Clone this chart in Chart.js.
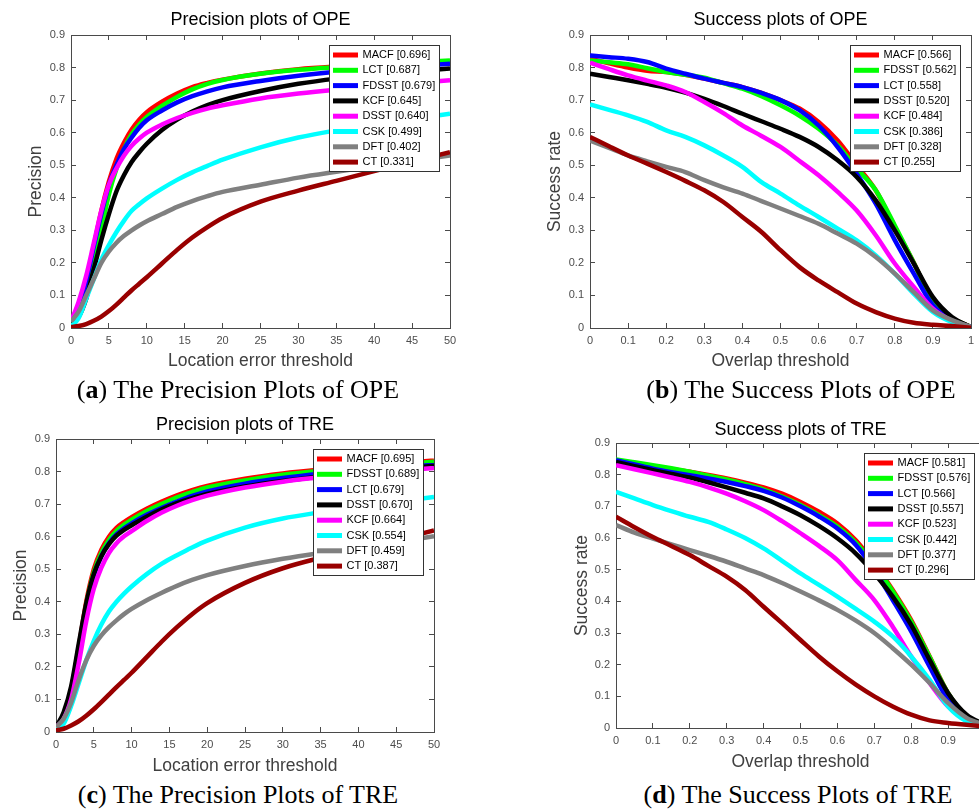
<!DOCTYPE html>
<html>
<head>
<meta charset="utf-8">
<script src="https://cdn.jsdelivr.net/npm/chart.js@4.4.0/dist/chart.umd.min.js"></script>
<style>
html, body { margin: 0; padding: 0; background: #fff; width: 979px; height: 809px; overflow: hidden; }
canvas { position: absolute; }
.cap { position: absolute; font-family: 'Liberation Serif', 'Times New Roman', serif; font-size: 26px; line-height: 26px; white-space: nowrap; transform: translateX(-50%); color: #000; }
</style>
</head>
<body>
<canvas id="chartA" width="521" height="380" style="left:0px;top:0px"></canvas>
<canvas id="chartB" width="501" height="380" style="left:530px;top:0px"></canvas>
<canvas id="chartC" width="490" height="380" style="left:0px;top:400px"></canvas>
<canvas id="chartD" width="469" height="380" style="left:566px;top:400px"></canvas>
<div class="cap" style="left:238px;top:377px">(<b>a</b>) The Precision Plots of OPE</div>
<div class="cap" style="left:801px;top:377px">(<b>b</b>) The Success Plots of OPE</div>
<div class="cap" style="left:238px;top:782px">(<b>c</b>) The Precision Plots of TRE</div>
<div class="cap" style="left:798px;top:782px">(<b>d</b>) The Success Plots of TRE</div>
<script>
// x values
const errThresh = [0, 1, 2, 3, 4, 5, 6, 7, 8, 9, 10, 12, 14, 16, 18, 20, 25, 30, 35, 40, 45, 50];
const overlapThresh = [0, 0.05, 0.1, 0.15, 0.2, 0.25, 0.3, 0.35, 0.4, 0.45, 0.5, 0.55, 0.6, 0.65, 0.7, 0.75, 0.8, 0.85, 0.9, 0.95, 1];

// (a) precision plots of OPE
const opePrecNames = ['MACF', 'LCT', 'FDSST', 'KCF', 'DSST', 'CSK', 'DFT', 'CT'];
const opePrecScores = [0.696, 0.687, 0.679, 0.645, 0.640, 0.499, 0.402, 0.331];
const opePrecMACF = [0.02, 0.06, 0.14, 0.25, 0.36, 0.45, 0.52, 0.57, 0.61, 0.64, 0.663, 0.695, 0.72, 0.74, 0.753, 0.763, 0.782, 0.795, 0.803, 0.809, 0.814, 0.818];
const opePrecLCT = [0.02, 0.04, 0.10, 0.19, 0.30, 0.41, 0.49, 0.55, 0.595, 0.625, 0.648, 0.682, 0.71, 0.733, 0.75, 0.762, 0.781, 0.793, 0.801, 0.808, 0.815, 0.822];
const opePrecFDSST = [0.02, 0.06, 0.14, 0.25, 0.35, 0.44, 0.50, 0.55, 0.585, 0.615, 0.638, 0.668, 0.693, 0.712, 0.727, 0.739, 0.759, 0.775, 0.787, 0.796, 0.804, 0.812];
const opePrecKCF = [0.02, 0.035, 0.09, 0.18, 0.27, 0.35, 0.42, 0.47, 0.51, 0.54, 0.566, 0.608, 0.64, 0.665, 0.685, 0.70, 0.728, 0.75, 0.766, 0.778, 0.788, 0.797];
const opePrecDSST = [0.02, 0.08, 0.16, 0.26, 0.36, 0.44, 0.49, 0.53, 0.56, 0.582, 0.60, 0.625, 0.645, 0.661, 0.674, 0.684, 0.705, 0.72, 0.732, 0.742, 0.752, 0.761];
const opePrecCSK = [0.005, 0.03, 0.09, 0.15, 0.21, 0.255, 0.295, 0.33, 0.36, 0.38, 0.398, 0.428, 0.455, 0.478, 0.498, 0.517, 0.555, 0.585, 0.607, 0.625, 0.642, 0.658];
const opePrecDFT = [0.02, 0.05, 0.10, 0.15, 0.20, 0.235, 0.262, 0.283, 0.30, 0.315, 0.328, 0.35, 0.372, 0.39, 0.405, 0.418, 0.44, 0.462, 0.48, 0.497, 0.514, 0.53];
const opePrecCT = [0.003, 0.006, 0.012, 0.022, 0.035, 0.052, 0.072, 0.094, 0.116, 0.136, 0.156, 0.198, 0.24, 0.278, 0.31, 0.338, 0.388, 0.422, 0.452, 0.482, 0.511, 0.54];

// (b) success plots of OPE
const opeSuccNames = ['MACF', 'FDSST', 'LCT', 'DSST', 'KCF', 'CSK', 'DFT', 'CT'];
const opeSuccScores = [0.566, 0.562, 0.558, 0.520, 0.484, 0.386, 0.328, 0.255];
const opeSuccMACF = [0.827, 0.813, 0.800, 0.790, 0.786, 0.778, 0.766, 0.753, 0.740, 0.722, 0.700, 0.674, 0.633, 0.576, 0.500, 0.423, 0.310, 0.200, 0.080, 0.030, 0.003];
const opeSuccFDSST = [0.822, 0.816, 0.810, 0.798, 0.786, 0.778, 0.769, 0.752, 0.735, 0.712, 0.684, 0.652, 0.612, 0.561, 0.490, 0.423, 0.315, 0.200, 0.082, 0.030, 0.003];
const opeSuccLCT = [0.837, 0.832, 0.827, 0.817, 0.797, 0.781, 0.766, 0.753, 0.740, 0.722, 0.700, 0.669, 0.622, 0.556, 0.474, 0.382, 0.270, 0.167, 0.070, 0.024, 0.003];
const opeSuccDSST = [0.781, 0.771, 0.761, 0.750, 0.738, 0.723, 0.704, 0.682, 0.658, 0.635, 0.612, 0.587, 0.556, 0.515, 0.464, 0.392, 0.300, 0.198, 0.095, 0.034, 0.003];
const opeSuccKCF = [0.815, 0.795, 0.776, 0.760, 0.745, 0.725, 0.694, 0.660, 0.622, 0.590, 0.556, 0.513, 0.469, 0.418, 0.361, 0.285, 0.198, 0.126, 0.059, 0.022, 0.003];
const opeSuccCSK = [0.687, 0.670, 0.653, 0.633, 0.607, 0.587, 0.561, 0.530, 0.495, 0.448, 0.413, 0.376, 0.341, 0.305, 0.269, 0.223, 0.167, 0.105, 0.049, 0.018, 0.003];
const opeSuccDFT = [0.576, 0.553, 0.530, 0.512, 0.495, 0.479, 0.454, 0.432, 0.413, 0.390, 0.367, 0.344, 0.320, 0.290, 0.259, 0.218, 0.167, 0.110, 0.054, 0.024, 0.003];
const opeSuccCT = [0.587, 0.558, 0.530, 0.505, 0.479, 0.452, 0.423, 0.387, 0.341, 0.295, 0.239, 0.187, 0.146, 0.110, 0.075, 0.049, 0.029, 0.016, 0.010, 0.006, 0.001];

// (c) precision plots of TRE
const trePrecNames = ['MACF', 'FDSST', 'LCT', 'DSST', 'KCF', 'CSK', 'DFT', 'CT'];
const trePrecScores = [0.695, 0.689, 0.679, 0.670, 0.664, 0.554, 0.459, 0.387];
const trePrecMACF = [0.015, 0.05, 0.13, 0.26, 0.40, 0.50, 0.56, 0.60, 0.627, 0.645, 0.66, 0.686, 0.708, 0.727, 0.743, 0.756, 0.778, 0.794, 0.806, 0.816, 0.825, 0.834];
const trePrecFDSST = [0.015, 0.045, 0.12, 0.25, 0.39, 0.49, 0.55, 0.59, 0.618, 0.637, 0.652, 0.679, 0.701, 0.721, 0.737, 0.751, 0.773, 0.79, 0.802, 0.812, 0.821, 0.83];
const trePrecLCT = [0.015, 0.045, 0.12, 0.245, 0.38, 0.48, 0.54, 0.58, 0.607, 0.626, 0.641, 0.667, 0.689, 0.708, 0.725, 0.739, 0.763, 0.78, 0.793, 0.803, 0.812, 0.821];
const trePrecDSST = [0.015, 0.06, 0.14, 0.27, 0.395, 0.485, 0.54, 0.577, 0.603, 0.621, 0.635, 0.661, 0.684, 0.703, 0.718, 0.731, 0.754, 0.771, 0.785, 0.797, 0.807, 0.818];
const trePrecKCF = [0.015, 0.04, 0.10, 0.21, 0.34, 0.44, 0.505, 0.55, 0.58, 0.601, 0.617, 0.648, 0.674, 0.695, 0.712, 0.726, 0.751, 0.769, 0.782, 0.793, 0.802, 0.811];
const trePrecCSK = [0.01, 0.025, 0.08, 0.15, 0.22, 0.28, 0.33, 0.37, 0.40, 0.425, 0.447, 0.485, 0.517, 0.543, 0.567, 0.588, 0.628, 0.656, 0.675, 0.692, 0.707, 0.722];
const trePrecDFT = [0.015, 0.04, 0.09, 0.16, 0.22, 0.265, 0.297, 0.322, 0.343, 0.362, 0.378, 0.405, 0.428, 0.449, 0.467, 0.482, 0.51, 0.532, 0.55, 0.566, 0.583, 0.601];
const trePrecCT = [0.005, 0.01, 0.02, 0.033, 0.05, 0.07, 0.092, 0.115, 0.138, 0.16, 0.182, 0.23, 0.278, 0.322, 0.362, 0.396, 0.458, 0.503, 0.535, 0.562, 0.59, 0.619];

// (d) success plots of TRE
const treSuccNames = ['MACF', 'FDSST', 'LCT', 'DSST', 'KCF', 'CSK', 'DFT', 'CT'];
const treSuccScores = [0.581, 0.576, 0.566, 0.557, 0.523, 0.442, 0.377, 0.296];
const treSuccMACF = [0.846, 0.836, 0.827, 0.818, 0.809, 0.799, 0.788, 0.775, 0.760, 0.740, 0.714, 0.683, 0.646, 0.593, 0.520, 0.436, 0.341, 0.226, 0.110, 0.037, 0.010];
const treSuccFDSST = [0.848, 0.839, 0.830, 0.820, 0.809, 0.797, 0.785, 0.770, 0.753, 0.731, 0.704, 0.672, 0.636, 0.585, 0.515, 0.432, 0.336, 0.224, 0.110, 0.038, 0.010];
const treSuccLCT = [0.846, 0.832, 0.819, 0.808, 0.798, 0.788, 0.777, 0.764, 0.749, 0.728, 0.700, 0.668, 0.630, 0.578, 0.499, 0.404, 0.305, 0.194, 0.089, 0.032, 0.010];
const treSuccDSST = [0.840, 0.827, 0.814, 0.802, 0.791, 0.776, 0.760, 0.743, 0.725, 0.700, 0.672, 0.638, 0.599, 0.551, 0.488, 0.415, 0.326, 0.215, 0.110, 0.042, 0.010];
const treSuccKCF = [0.830, 0.817, 0.804, 0.791, 0.777, 0.760, 0.740, 0.716, 0.688, 0.653, 0.615, 0.575, 0.530, 0.467, 0.404, 0.320, 0.226, 0.142, 0.068, 0.026, 0.010];
const treSuccCSK = [0.746, 0.725, 0.704, 0.685, 0.667, 0.651, 0.627, 0.600, 0.567, 0.528, 0.488, 0.452, 0.415, 0.376, 0.336, 0.289, 0.226, 0.152, 0.068, 0.021, 0.005];
const treSuccDFT = [0.641, 0.617, 0.598, 0.580, 0.562, 0.544, 0.525, 0.504, 0.483, 0.458, 0.431, 0.403, 0.373, 0.339, 0.300, 0.252, 0.200, 0.142, 0.079, 0.032, 0.010];
const treSuccCT = [0.667, 0.634, 0.603, 0.575, 0.546, 0.512, 0.478, 0.436, 0.383, 0.331, 0.278, 0.226, 0.179, 0.137, 0.100, 0.068, 0.042, 0.024, 0.016, 0.010, 0.005];

const rankColors = ['#ff0000', '#00ff00', '#0000ff', '#000000', '#ff00ff', '#00ffff', '#808080', '#990000'];
const FONT = "'Liberation Sans', Arial, Helvetica, sans-serif";
const axisCol = '#4a4a4a';

// legend box inside the axes, top right, like matlab
const boxLegend = {
  id: 'boxLegend',
  afterDatasetsDraw(chart) {
    const ca = chart.chartArea, c = chart.ctx;
    const sets = chart.data.datasets;
    c.save();
    c.font = '11px ' + FONT;
    let w = 0;
    sets.forEach(d => { w = Math.max(w, c.measureText(d.label).width); });
    const rowH = 15.3;
    const bw = Math.round(33.5 + w + 4), bh = Math.round(10 + rowH * (sets.length - 1) + 9);
    const bx = Math.round(ca.right - 11 - bw), by = Math.round(ca.top + 10);
    c.fillStyle = '#fff';
    c.fillRect(bx, by, bw, bh);
    c.strokeStyle = '#333';
    c.lineWidth = 1;
    c.strokeRect(bx + 0.5, by + 0.5, bw, bh);
    sets.forEach((d, i) => {
      const y = by + 10 + rowH * i;
      c.strokeStyle = d.borderColor;
      c.lineWidth = 5;
      c.beginPath();
      c.moveTo(bx + 4, y);
      c.lineTo(bx + 29, y);
      c.stroke();
      c.fillStyle = '#000';
      c.textBaseline = 'middle';
      c.fillText(d.label, bx + 33.5, y);
    });
    c.restore();
  }
};

function fmt(v) { return String(+v.toFixed(2)); }

function drawPanel(id, p) {
  const datasets = p.names.map((n, i) => ({
    label: n + ' [' + p.scores[i].toFixed(3) + ']',
    data: p.series[i].map((v, k) => ({ x: p.xs[k], y: v })),
    borderColor: rankColors[i],
    backgroundColor: rankColors[i],
    borderWidth: 4.5,
    borderJoinStyle: 'round',
    pointRadius: 0,
    fill: false,
    cubicInterpolationMode: 'monotone',
    order: p.names.length - i
  }));
  const grid = { drawOnChartArea: false, drawTicks: true, tickLength: -5, color: axisCol, lineWidth: 1 };
  const border = { display: true, color: axisCol, width: 1 };
  const tickFont = { family: FONT, size: 11 };
  const titleFont = { family: FONT, size: 17.5 };
  new Chart(document.getElementById(id), {
    type: 'line',
    data: { datasets: datasets },
    plugins: [boxLegend],
    options: {
      responsive: false,
      animation: false,
      events: [],
      layout: { padding: 0 },
      plugins: {
        legend: { display: false },
        tooltip: { enabled: false },
        title: {
          display: true, text: p.title, color: '#000',
          font: { family: FONT, size: 18, weight: 'normal' },
          padding: { top: p.titlePad, bottom: 0 }
        }
      },
      scales: {
        x: {
          type: 'linear', position: 'bottom', min: 0, max: p.xMax,
          ticks: { stepSize: p.xStep, autoSkip: false, maxRotation: 0, padding: 11, font: tickFont, color: '#4d4d4d', callback: fmt },
          grid: grid, border: border,
          title: { display: true, text: p.xTitle, color: '#404040', font: titleFont, padding: { top: 0, bottom: p.xlPad } },
          afterFit: s => { s.height = p.bottomH; }
        },
        x2: {
          type: 'linear', position: 'top', display: true, min: 0, max: p.xMax,
          ticks: { stepSize: p.xStep, autoSkip: false, display: false },
          grid: grid, border: border,
          afterFit: s => { s.height = p.topH; }
        },
        y: {
          type: 'linear', position: 'left', min: 0, max: 0.9,
          ticks: { stepSize: 0.1, autoSkip: false, padding: 11, font: tickFont, color: '#4d4d4d', callback: fmt },
          grid: grid, border: border,
          title: { display: true, text: p.yTitle, color: '#404040', font: titleFont, padding: { top: p.ylPad, bottom: 0 } },
          afterFit: s => { s.width = p.side; }
        },
        y2: {
          type: 'linear', position: 'right', display: true, min: 0, max: 0.9,
          ticks: { stepSize: 0.1, autoSkip: false, display: false },
          grid: grid, border: border,
          afterFit: s => { s.width = p.side; }
        }
      }
    }
  });
}

drawPanel('chartA', {
  title: 'Precision plots of OPE', xTitle: 'Location error threshold', yTitle: 'Precision',
  xs: errThresh, xMax: 50, xStep: 5,
  names: opePrecNames, scores: opePrecScores,
  series: [opePrecMACF, opePrecLCT, opePrecFDSST, opePrecKCF, opePrecDSST, opePrecCSK, opePrecDFT, opePrecCT],
  side: 71, titlePad: 9.2, topH: 4.2, bottomH: 52, xlPad: 8.5, ylPad: 25.5
});
drawPanel('chartB', {
  title: 'Success plots of OPE', xTitle: 'Overlap threshold', yTitle: 'Success rate',
  xs: overlapThresh, xMax: 1, xStep: 0.1,
  names: opeSuccNames, scores: opeSuccScores,
  series: [opeSuccMACF, opeSuccFDSST, opeSuccLCT, opeSuccDSST, opeSuccKCF, opeSuccCSK, opeSuccDFT, opeSuccCT],
  side: 60, titlePad: 9.2, topH: 4.2, bottomH: 52, xlPad: 8.5, ylPad: 14.5
});
drawPanel('chartC', {
  title: 'Precision plots of TRE', xTitle: 'Location error threshold', yTitle: 'Precision',
  xs: errThresh, xMax: 50, xStep: 5,
  names: trePrecNames, scores: trePrecScores,
  series: [trePrecMACF, trePrecFDSST, trePrecLCT, trePrecDSST, trePrecKCF, trePrecCSK, trePrecDFT, trePrecCT],
  side: 56, titlePad: 14.2, topH: 3.2, bottomH: 48, xlPad: 3.5, ylPad: 10.5
});
drawPanel('chartD', {
  title: 'Success plots of TRE', xTitle: 'Overlap threshold', yTitle: 'Success rate',
  xs: overlapThresh, xMax: 1, xStep: 0.1,
  names: treSuccNames, scores: treSuccScores,
  series: [treSuccMACF, treSuccFDSST, treSuccLCT, treSuccDSST, treSuccKCF, treSuccCSK, treSuccDFT, treSuccCT],
  side: 50, titlePad: 19.2, topH: 2.2, bottomH: 52, xlPad: 7.5, ylPad: 5.5
});
</script>
</body>
</html>
